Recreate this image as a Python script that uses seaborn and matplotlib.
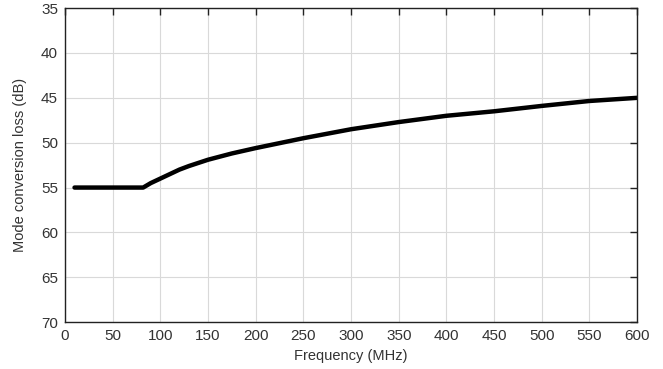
import matplotlib
matplotlib.use("Agg")
import matplotlib.pyplot as plt
import seaborn as sns
import pandas as pd

# values
freq = [10, 82, 90, 100, 110, 120, 130, 150, 175, 200, 250, 300, 350, 400, 450, 500, 550, 600]
loss = [55.0, 55.0, 54.5, 54.0, 53.5, 53.0, 52.6, 51.9, 51.2, 50.6, 49.5, 48.5, 47.7, 47.0, 46.5, 45.9, 45.35, 45.0]
x_ticks = list(range(0, 601, 50))
y_ticks = list(range(35, 71, 5))

df = pd.DataFrame({"Frequency (MHz)": freq, "Mode conversion loss (dB)": loss})

sns.set_style("white")
plt.rcParams["font.family"] = ["Liberation Sans", "DejaVu Sans"]

fig, ax = plt.subplots(figsize=(6.63, 3.69), dpi=100)
fig.subplots_adjust(left=0.098, right=0.961, top=0.978, bottom=0.127)

sns.lineplot(data=df, x="Frequency (MHz)", y="Mode conversion loss (dB)",
             color="black", linewidth=3.2, ax=ax)

ax.set_xlim(0, 600)
ax.set_ylim(70, 35)
ax.set_xticks(x_ticks)
ax.set_yticks(y_ticks)
ax.grid(True, color="#d9d9d9", linewidth=0.8)
ax.tick_params(direction="in", length=5, width=1, top=True, right=True,
               labelsize=11, labelcolor="#333333", color="#222222", pad=5)
for s in ax.spines.values():
    s.set_color("#222222")
    s.set_linewidth(1.0)
ax.set_xlabel("Frequency (MHz)", fontsize=10.5, color="#333333", labelpad=4)
ax.set_ylabel("Mode conversion loss (dB)", fontsize=10.5, color="#333333", labelpad=10)

fig.savefig("out.png", dpi=100)
